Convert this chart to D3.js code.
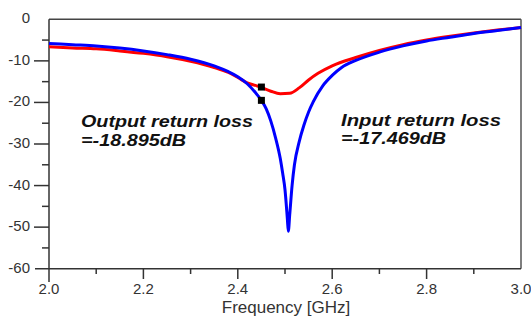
<!DOCTYPE html>
<meta charset="utf-8">
<script src="https://cdn.jsdelivr.net/npm/d3@7"></script>
<style>
body { margin: 0; background: #fff; }
text { font-family: "Liberation Sans", Arial, sans-serif; }
.tick-label { fill: #333; font-size: 15px; }
.note { font-weight: bold; font-style: italic; font-size: 16px; fill: #111; }
</style>
<body>
<script>

// frequency (GHz) and return loss (dB)
var freqIn = [2.00, 2.05, 2.10, 2.15, 2.20, 2.25, 2.30, 2.35, 2.38, 2.40, 2.42, 2.44, 2.45, 2.46, 2.47, 2.48, 2.49, 2.495, 2.50, 2.505, 2.507, 2.51, 2.515, 2.52, 2.53, 2.54, 2.55, 2.56, 2.58, 2.60, 2.62, 2.65, 2.70, 2.75, 2.80, 2.85, 2.90, 2.95, 3.00];
var lossIn = [-5.8, -6.1, -6.4, -6.9, -7.6, -8.5, -9.6, -11.2, -12.6, -13.8, -15.5, -18.0, -19.5, -21.5, -24.5, -28.5, -33.5, -37, -41, -48, -51, -47, -40, -35, -29.5, -25.5, -22.3, -19.8, -16.0, -13.5, -11.6, -9.9, -7.9, -6.4, -5.2, -4.3, -3.4, -2.7, -2.0];

var freqOut = [2.00, 2.05, 2.10, 2.15, 2.20, 2.25, 2.30, 2.35, 2.38, 2.40, 2.42, 2.44, 2.45, 2.47, 2.49, 2.51, 2.53, 2.55, 2.57, 2.60, 2.65, 2.70, 2.75, 2.80, 2.85, 2.90, 2.95, 3.00];
var lossOut = [-6.6, -6.9, -7.1, -7.6, -8.2, -9.0, -10.1, -11.6, -12.8, -14.0, -15.3, -16.0, -16.4, -17.3, -17.9, -17.8, -16.5, -14.6, -13.0, -11.2, -9.2, -7.5, -6.1, -5.0, -4.1, -3.3, -2.6, -2.0];

var markerFreq = 2.45;
var markerLoss = [-16.3, -19.5];

var xTicks = [2.0, 2.2, 2.4, 2.6, 2.8, 3.0];
var xMinor = [2.1, 2.3, 2.5, 2.7, 2.9];
var yTicks = [0, -10, -20, -30, -40, -50, -60];
var yMinor = [-5, -15, -25, -35, -45, -55];

var width = 531, height = 326;
var mLeft = 49, mRight = 521, mTop = 19.3, mBottom = 268.7;

var svg = d3.select("body").append("svg")
    .attr("width", width)
    .attr("height", height);

var x = d3.scaleLinear().domain([2, 3]).range([mLeft, mRight]);
var y = d3.scaleLinear().domain([0, -60]).range([mTop, mBottom]);

// frame
svg.append("line").attr("x1", mLeft).attr("x2", mRight).attr("y1", mTop).attr("y2", mTop)
    .attr("stroke", "#444").attr("stroke-width", 1.5);
svg.append("line").attr("x1", mRight).attr("x2", mRight).attr("y1", mTop).attr("y2", mBottom)
    .attr("stroke", "#555").attr("stroke-width", 1.5);
svg.append("line").attr("x1", mLeft).attr("x2", mLeft).attr("y1", mTop).attr("y2", 282)
    .attr("stroke", "#333").attr("stroke-width", 1.5);
svg.append("line").attr("x1", 35).attr("x2", mRight).attr("y1", mBottom).attr("y2", mBottom)
    .attr("stroke", "#333").attr("stroke-width", 1.5);

// y ticks
svg.selectAll(".ymaj").data(yTicks.slice(1, 6)).enter().append("line")
    .attr("x1", 34).attr("x2", mLeft).attr("y1", d => y(d)).attr("y2", d => y(d))
    .attr("stroke", "#333").attr("stroke-width", 1.5);
svg.selectAll(".ymin").data(yMinor).enter().append("line")
    .attr("x1", 42).attr("x2", mLeft).attr("y1", d => y(d)).attr("y2", d => y(d))
    .attr("stroke", "#333").attr("stroke-width", 1.5);
svg.selectAll(".ylab").data(yTicks).enter().append("text")
    .attr("class", "tick-label")
    .attr("x", 30).attr("y", d => y(d) + 4)
    .attr("text-anchor", "end")
    .text(d => d);

// x ticks
svg.selectAll(".xmaj").data(xTicks.slice(1, 5)).enter().append("line")
    .attr("x1", d => x(d)).attr("x2", d => x(d)).attr("y1", mBottom).attr("y2", 279)
    .attr("stroke", "#333").attr("stroke-width", 1.5);
svg.selectAll(".xmin").data(xMinor).enter().append("line")
    .attr("x1", d => x(d)).attr("x2", d => x(d)).attr("y1", mBottom).attr("y2", 274)
    .attr("stroke", "#333").attr("stroke-width", 1.5);
svg.selectAll(".xlab").data(xTicks).enter().append("text")
    .attr("class", "tick-label")
    .attr("x", d => x(d)).attr("y", 294)
    .attr("text-anchor", "middle")
    .text(d => d.toFixed(1));

svg.append("text")
    .attr("class", "tick-label")
    .attr("x", 286).attr("y", 313)
    .attr("text-anchor", "middle")
    .style("font-size", "17px")
    .text("Frequency [GHz]");

// curves
var line = d3.line()
    .x(d => x(d[0]))
    .y(d => y(d[1]))
    .curve(d3.curveMonotoneX);

svg.append("path")
    .datum(d3.zip(freqOut, lossOut))
    .attr("d", line)
    .attr("fill", "none")
    .attr("stroke", "#ff0000")
    .attr("stroke-width", 3);

svg.append("path")
    .datum(d3.zip(freqIn, lossIn))
    .attr("d", line)
    .attr("fill", "none")
    .attr("stroke", "#0000ff")
    .attr("stroke-width", 3);

// markers
svg.selectAll(".mk").data(markerLoss).enter().append("rect")
    .attr("x", x(markerFreq) - 3.5).attr("y", d => y(d) - 3.5)
    .attr("width", 7).attr("height", 7)
    .attr("fill", "#000");

// annotations
svg.append("text").attr("class", "note").attr("x", 81).attr("y", 127)
    .attr("textLength", 172).attr("lengthAdjust", "spacingAndGlyphs")
    .text("Output return loss");
svg.append("text").attr("class", "note").attr("x", 81).attr("y", 146)
    .attr("textLength", 105).attr("lengthAdjust", "spacingAndGlyphs")
    .text("=-18.895dB");
svg.append("text").attr("class", "note").attr("x", 341).attr("y", 126)
    .attr("textLength", 160).attr("lengthAdjust", "spacingAndGlyphs")
    .text("Input return loss");
svg.append("text").attr("class", "note").attr("x", 341).attr("y", 144)
    .attr("textLength", 105).attr("lengthAdjust", "spacingAndGlyphs")
    .text("=-17.469dB");

</script>
</body>
